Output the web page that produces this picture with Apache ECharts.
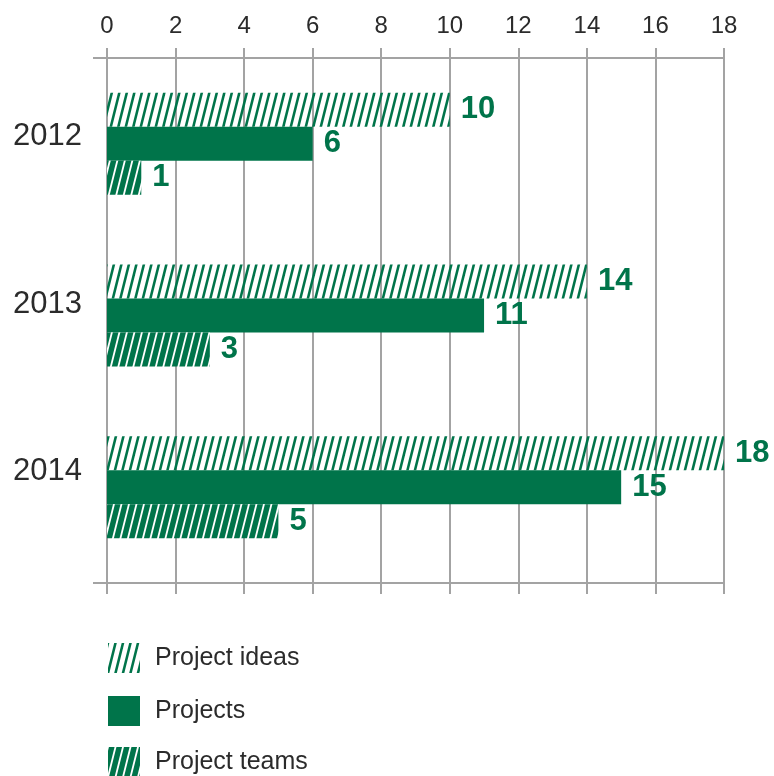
<!DOCTYPE html>
<html>
<head>
<meta charset="utf-8">
<script src="https://cdn.jsdelivr.net/npm/echarts@6/dist/echarts.min.js"></script>
<style>
  html, body { margin: 0; padding: 0; background: #fff; }
  #chart { width: 774px; height: 776px; }
</style>
</head>
<body>
<div id="chart"></div>
<script>
// Data
const years = ['2012', '2013', '2014'];
const seriesNames = ['Project ideas', 'Projects', 'Project teams'];
const projectIdeas = [10, 14, 18];
const projects = [6, 11, 15];
const projectTeams = [1, 3, 5];
const axisMin = 0;
const axisMax = 18;
const axisStep = 2;

// Styling
const GREEN = '#00744a';
const LINE = '#a3a3a3';
const TEXT = '#2b2b2b';
const FONT = '"Liberation Sans", Arial, sans-serif';
const NARROW = '"Liberation Sans Narrow", "Liberation Sans", Arial, sans-serif';
const GRID = { left: 107, right: 50, top: 58, height: 515 };
const BOTTOM_OFFSET = 10;

// Diagonal hatch tile: "/" strokes, two per tile
function hatch(bg, fg, lineW) {
  const W = 15, H = 30, P = 7.5;
  const c = document.createElement('canvas');
  c.width = W; c.height = H;
  const g = c.getContext('2d');
  if (bg) { g.fillStyle = bg; g.fillRect(0, 0, W, H); }
  g.strokeStyle = fg;
  g.lineWidth = lineW;
  for (let x0 = -2 * P; x0 <= W + P; x0 += P) {
    const dx = P / H;
    g.beginPath();
    g.moveTo(x0 - dx, H + 1);
    g.lineTo(x0 + P + dx, -1);
    g.stroke();
  }
  return { image: c, repeat: 'repeat' };
}
const ideasFill = hatch(null, GREEN, 2.5);
const teamsFill = hatch(GREEN, '#ffffff', 1.8);
const fills = [ideasFill, GREEN, teamsFill];
const values = [projectIdeas, projects, projectTeams];

// Per-category label nudges
const yearStyle = { fontSize: 31, fontFamily: FONT, color: TEXT };
const yearRich = {
  y0: Object.assign({ padding: [0, 0, 15, 0] }, yearStyle),
  y1: Object.assign({ padding: [0, 0, 23, 0] }, yearStyle),
  y2: Object.assign({ padding: [0, 0, 32, 0] }, yearStyle)
};

const valueLabel = {
  show: true,
  position: 'right',
  distance: 11,
  color: GREEN,
  fontSize: 31,
  fontWeight: 'bold',
  fontFamily: FONT
};

const legendTops = [643, 696, 747];

const chart = echarts.init(document.getElementById('chart'), null, { renderer: 'canvas' });

const plotBottom = GRID.top + GRID.height + BOTTOM_OFFSET;

chart.setOption({
  animation: false,
  backgroundColor: '#ffffff',
  grid: GRID,
  xAxis: [
    {
      type: 'value', position: 'top',
      min: axisMin, max: axisMax, interval: axisStep,
      axisLine: { show: true, lineStyle: { color: LINE, width: 2 } },
      axisTick: { show: true, length: 10, lineStyle: { color: LINE, width: 2 } },
      axisLabel: { margin: 20, fontSize: 24, color: TEXT, fontFamily: NARROW },
      splitLine: { show: true, lineStyle: { color: LINE, width: 2 } }
    },
    {
      type: 'value', position: 'bottom', offset: BOTTOM_OFFSET,
      min: axisMin, max: axisMax, interval: axisStep,
      axisLine: { show: true, lineStyle: { color: LINE, width: 2 } },
      axisTick: { show: true, length: 11, lineStyle: { color: LINE, width: 2 } },
      axisLabel: { show: false },
      splitLine: { show: false }
    },
    {
      type: 'value', position: 'bottom', offset: BOTTOM_OFFSET,
      min: axisMin, max: axisMax, interval: axisStep,
      axisLine: { show: false },
      axisTick: { show: true, inside: true, length: BOTTOM_OFFSET, lineStyle: { color: LINE, width: 2 } },
      axisLabel: { show: false },
      splitLine: { show: false }
    }
  ],
  yAxis: {
    type: 'category',
    data: years,
    inverse: true,
    axisLine: { show: false },
    axisTick: { show: false },
    axisLabel: {
      margin: 25,
      formatter: (v, i) => `{y${i}|${v}}`,
      rich: yearRich
    }
  },
  // one legend block per series, stacked vertically
  legend: seriesNames.map((name, i) => ({
    orient: 'vertical',
    left: 108,
    top: legendTops[i],
    padding: 0,
    itemWidth: 32,
    itemHeight: 30,
    icon: 'rect',
    textStyle: { fontSize: 25, color: TEXT, fontFamily: FONT, padding: [0, 0, 0, 10] },
    data: [name]
  })),
  series: seriesNames.map((name, i) => ({
    name: name,
    type: 'bar',
    data: values[i],
    barWidth: 34,
    barGap: '0%',
    itemStyle: { color: fills[i] },
    label: valueLabel
  })),
  graphic: [
    // short leftward stubs of the top and bottom axis lines
    {
      type: 'line', silent: true,
      shape: { x1: GRID.left - 14, y1: GRID.top, x2: GRID.left, y2: GRID.top },
      style: { stroke: LINE, lineWidth: 2 }
    },
    {
      type: 'line', silent: true,
      shape: { x1: GRID.left - 14, y1: plotBottom, x2: GRID.left, y2: plotBottom },
      style: { stroke: LINE, lineWidth: 2 }
    }
  ]
});
</script>
</body>
</html>
